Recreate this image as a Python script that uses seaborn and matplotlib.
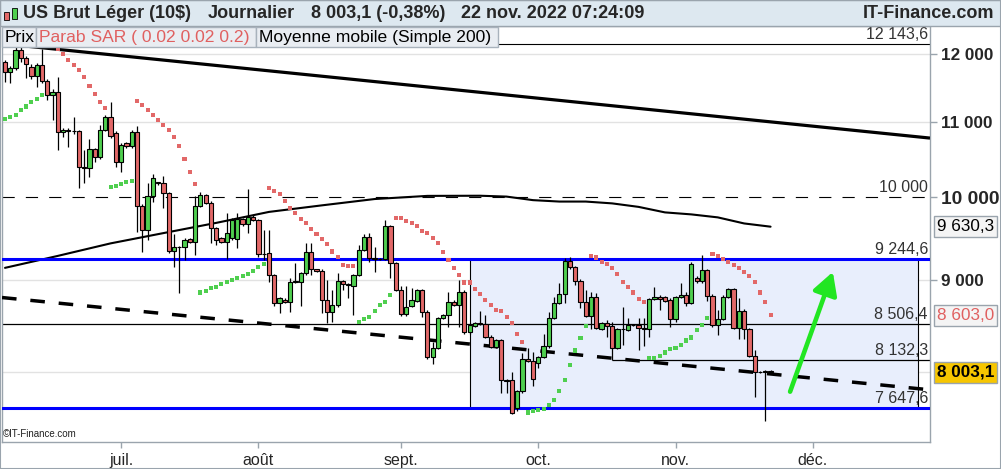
import numpy as np
import pandas as pd
import seaborn as sns
import matplotlib
matplotlib.use("Agg")
import matplotlib.pyplot as plt
import matplotlib.ticker as mticker
from matplotlib.patches import Rectangle

# ---- données : bougies journalières (dim-ven) du 6 juin au 22 nov. 2022
opens = [11870, 11720, 11780, 12060, 11930, 11805, 11667, 11831, 11598, 11389,
         11437, 10860, 10892, 10870, 10870, 10396, 10375, 10628, 10528, 10892,
         11070, 10846, 10462, 10710, 10673, 10860, 9888, 9591, 10015, 10190,
         10179, 10050, 9342, 9382, 9385, 9478, 9443, 9888, 10028, 9930,
         9612, 9490, 9450, 9490, 9482, 9726, 9664, 9755, 9714, 9303,
         9311, 9057, 8737, 8774, 8752, 8981, 8981, 9077, 9323, 9120,
         9107, 8774, 8644, 8718, 8992, 8950, 8933, 9057, 9350, 9502,
         9252, 9245, 9240, 9640, 9193, 8886, 8619, 8710, 8760, 8886,
         8644, 8157, 8252, 8572, 8608, 8755, 8718, 8863, 8421, 8489,
         8524, 8510, 8374, 8262, 8339, 7919, 7919, 7645, 7809, 8140,
         8120, 8099, 8158, 8269, 8572, 8737, 8842, 9224, 9147, 8992,
         8748, 8600, 8804, 8453, 8517, 8488, 8252, 8453, 8440, 8499,
         8499, 8463, 8460, 8782, 8811, 8804, 8774, 8562, 8804, 8830,
         8737, 9020, 8985, 9115, 8823, 8499, 8562, 8811, 8894, 8464,
         8655, 8453, 8174, 8010, 8000, 8020]
highs = [11910, 11816, 12105, 12136, 11968, 11846, 11860, 12070, 11623, 11476,
         11648, 10920, 10920, 11070, 10892, 10619, 10764, 10650, 10962, 11102,
         11292, 10870, 10710, 10730, 10892, 10952, 9910, 10186, 10296, 10200,
         10274, 10070, 9542, 9400, 9490, 9490, 10015, 10070, 10040, 9950,
         9630, 9500, 9801, 9740, 9797, 9740, 10105, 9770, 9730, 9591,
         9591, 9070, 8810, 8790, 9023, 9197, 9090, 9430, 9433, 9130,
         9120, 9000, 8886, 9077, 9000, 8960, 9070, 9410, 9542, 9550,
         9382, 9260, 9714, 9650, 9210, 8932, 8932, 8905, 8900, 8900,
         8660, 8321, 8590, 8620, 8867, 8770, 9000, 8880, 8510, 8535,
         8650, 8608, 8390, 8350, 8350, 7935, 8010, 7820, 8199, 8252,
         8216, 8170, 8403, 8644, 8811, 8962, 9250, 9270, 9160, 9005,
         8886, 8857, 8850, 8530, 8554, 8535, 8465, 8700, 8572, 8510,
         8572, 8572, 8800, 8924, 8825, 8815, 8790, 8815, 8962, 8867,
         9212, 9040, 9291, 9130, 8840, 8663, 8825, 8905, 8905, 8793,
         8670, 8465, 8234, 8020, 8030, 8030]
lows = [11580, 11560, 11757, 11877, 11633, 11618, 11509, 11564, 11316, 11032,
        10619, 10800, 10655, 10837, 10114, 10178, 10265, 10462, 10500, 10870,
        10780, 10396, 10330, 10650, 10650, 9570, 9323, 9470, 9943, 10160,
        9860, 9311, 9146, 8849, 9232, 9430, 9291, 9870, 9910, 9430,
        9410, 9430, 9240, 9470, 9370, 9640, 9554, 9700, 9270, 9232,
        8981, 8707, 8633, 8740, 8644, 8960, 8710, 9060, 9057, 9090,
        8627, 8517, 8535, 8700, 8886, 8793, 8608, 9040, 9340, 9212,
        9095, 9225, 9225, 9020, 8870, 8600, 8600, 8700, 8745, 8590,
        8140, 8088, 8240, 8560, 8481, 8705, 8481, 8400, 8400, 8480,
        8500, 8360, 8250, 8250, 7796, 7796, 7585, 7613, 7795, 8105,
        7865, 8050, 8145, 8255, 8560, 8725, 8737, 9130, 8943, 8682,
        8585, 8453, 8450, 8440, 8368, 8130, 8240, 8286, 8430, 8485,
        8234, 8269, 8374, 8770, 8663, 8750, 8474, 8535, 8795, 8707,
        8725, 8970, 8970, 8766, 8480, 8392, 8550, 8800, 8450, 8346,
        8346, 8160, 7753, 7990, 7517, 7985]
closes = [11720, 11782, 12059, 11933, 11842, 11667, 11831, 11598, 11389, 11437,
          10860, 10892, 10870, 10875, 10388, 10375, 10628, 10528, 10892, 11070,
          10810, 10462, 10686, 10673, 10860, 9888, 9591, 10015, 10252, 10179,
          10050, 9342, 9382, 9385, 9470, 9443, 9888, 10024, 9930, 9612,
          9470, 9450, 9558, 9714, 9726, 9664, 9751, 9714, 9299, 9299,
          9057, 8737, 8793, 8752, 8974, 8985, 9077, 9323, 9123, 9107,
          8774, 8644, 8718, 8992, 8952, 8937, 9057, 9350, 9502, 9252,
          9245, 9240, 9640, 9193, 8886, 8619, 8696, 8774, 8886, 8644,
          8157, 8252, 8572, 8608, 8755, 8718, 8863, 8421, 8499, 8524,
          8510, 8374, 8262, 8339, 7919, 7915, 7597, 7809, 8140, 8120,
          7933, 8158, 8269, 8572, 8737, 8842, 9224, 9147, 8992, 8748,
          8600, 8804, 8464, 8517, 8488, 8252, 8453, 8450, 8499, 8495,
          8463, 8460, 8782, 8811, 8782, 8766, 8562, 8804, 8830, 8737,
          9185, 8985, 9115, 8823, 8499, 8562, 8811, 8894, 8464, 8655,
          8453, 8174, 8010, 8000, 8020, 8003.1]

# Parabolic SAR (0.02 0.02 0.2)
sar = [11042, 11070, 11098, 11173, 11221, 11292, 11330, 11389,
       12199, 12128, 12066,
       11994, 11907, 11831, 11757, 11648, 11519, 11403, 11292, 11206,
       10135, 10147, 10169, 10191, 10212,
       11302, 11245, 11173, 11102, 11032, 10962, 10892, 10800, 10673, 10494, 10330, 10169,
       8857, 8879, 8906, 8924, 8951, 8974, 9000, 9020, 9046, 9069, 9104, 9147, 9185,
       10114, 10083, 10037, 9955, 9867, 9797, 9726, 9673, 9603, 9542, 9482, 9422,
       9331, 9264, 9174, 9166, 9166,
       8535, 8562, 8590, 8655, 8718, 8755, 8830,
       9735, 9735, 9702, 9673, 9640, 9579, 9558, 9498, 9438, 9330, 9232, 9142, 9057,
       8970, 8970, 8897, 8838, 8774, 8718, 8663, 8655, 8590, 8517, 8403, 8313,
       7603, 7619, 7629, 7641, 7678, 7727, 7816, 7926, 8078, 8227, 8360, 8488,
       9280, 9260, 9212, 9185, 9135, 9066, 8981, 8914, 8857, 8787, 8746,
       8147, 8147, 8174, 8206, 8241, 8258, 8286, 8332, 8364, 8446, 8499, 8577,
       9303, 9275, 9244, 9209, 9174, 9142, 9095, 9049, 8981, 8857, 8746, 8603]

# Moyenne mobile simple 200 (relevée toutes les 5 à 10 bougies)
ma_idx = [0, 10, 20, 30, 40, 50, 60, 70, 80, 90, 95, 100, 105, 110, 115,
          120, 125, 130, 135, 140, 145]
ma_vals = [9139, 9279, 9428, 9552, 9677, 9813, 9895, 9975, 10015, 10017, 10006,
           9961, 9943, 9943, 9920, 9876, 9807, 9782, 9745, 9670, 9630.3]

# niveaux horizontaux tracés sur le graphique
level_top = 12143.6
level_round = 10000
box_high = 9244.6
box_low = 7647.6
level_mid = 8506.4
level_support = 8132.3
support_start = 115
box_start, box_end = 88, 173

# droites de tendance (indice de bougie, prix)
trend_solid = ([0, 145], [12150, 11004])
trend_dashed = ([0, 145], [8797, 7985])

# flèche verte
arrow_from = (148.7, 7807)
arrow_to = (156.8, 9092)

month_labels = ['juil.', 'août', 'sept.', 'oct.', 'nov.', 'déc.']

RED = '#e26868'
GREEN = '#4fcf4f'

# ---- mise en forme
sns.set_style("white")
plt.rcParams['font.family'] = ['Liberation Sans', 'DejaVu Sans']

W, H = 1001, 469
fig = plt.figure(figsize=(W / 100, H / 100), dpi=100)
fig.patch.set_facecolor('white')


def fx(px):
    return px / W


def fy(py):
    return 1 - py / H


def fr(v, dec=1):
    s = f"{v:,.{dec}f}"
    return s.replace(',', ' ').replace('.', ',')


ax = fig.add_axes([fx(2), fy(442), fx(930) - fx(2), fy(26) - fy(442)])
ax.set_facecolor('white')
ax.set_yscale('log')
ax.set_ylim(7323, 12431)
ax.set_xlim(-0.57, 175.2)

# dates (le marché cote du dimanche au vendredi)
all_days = pd.date_range('2022-06-06', '2022-12-31')
all_days = all_days[all_days.dayofweek != 5]
n = len(closes)

df = pd.DataFrame({'x': np.arange(n), 'open': opens, 'high': highs,
                   'low': lows, 'close': closes})
df['up'] = df['close'] >= df['open']

# quadrillage
for g in [8000, 9000, 11000, 12000]:
    ax.axhline(g, color='#e2e2e2', lw=1, zorder=0.5)

# rectangle bleu clair
ax.add_patch(Rectangle((box_start, box_low), box_end - box_start, box_high - box_low,
                       facecolor='#e8eefc', edgecolor='none', zorder=0.8))
ax.vlines([box_start, box_end], box_low, box_high, color='black', lw=0.8, zorder=2)

# lignes horizontales
xmin, xmax = ax.get_xlim()
ax.axhline(level_top, color='black', lw=0.8, zorder=2)
ax.axhline(level_round, color='black', lw=0.8, ls=(0, (11, 10)), zorder=2)
ax.axhline(level_mid, color='black', lw=0.9, zorder=2)
ax.hlines(level_support, support_start, xmax, color='black', lw=0.9, zorder=2)
ax.axhline(box_high, color='#0000ff', lw=2.2, zorder=3.5)
ax.axhline(box_low, color='#0000ff', lw=2.2, zorder=3.5)


def extend(line, x0, x1):
    (k1, k2), (v1, v2) = line
    slope = (np.log(v2) - np.log(v1)) / (k2 - k1)
    return [x0, x1], [v1 * np.exp(slope * (x0 - k1)), v1 * np.exp(slope * (x1 - k1))]


xs, ys = extend(trend_solid, xmin, xmax)
ax.plot(xs, ys, color='black', lw=2.3, zorder=3, solid_capstyle='butt')
xs, ys = extend(trend_dashed, xmin, xmax)
ax.plot(xs, ys, color='black', lw=2.5, ls=(0, (4.2, 4)), zorder=3)

# moyenne mobile
sns.lineplot(x=ma_idx, y=ma_vals, ax=ax, color='black', linewidth=1.5, zorder=3)

# bougies
ax.vlines(df['x'], df['low'], df['high'], color='black', lw=0.9, zorder=4)
body_bottom = df[['open', 'close']].min(axis=1)
body_h = (df['close'] - df['open']).abs().clip(lower=3)
ax.bar(df['x'], body_h, bottom=body_bottom, width=0.8,
       color=np.where(df['up'], GREEN, RED), edgecolor='black', linewidth=0.8, zorder=5)

# SAR parabolique
sar_df = pd.DataFrame({'x': np.arange(n), 'sar': sar})
sar_df['trend'] = np.where(sar_df['sar'] < df['close'], 'up', 'down')
sns.scatterplot(data=sar_df, x='x', y='sar', hue='trend', palette={'up': GREEN, 'down': RED},
                marker='s', s=8.5, linewidth=0, legend=False, ax=ax, zorder=6)

# flèche
ax.annotate('', xy=arrow_to, xytext=arrow_from,
            arrowprops=dict(arrowstyle='-|>,head_length=0.9,head_width=0.5',
                            color='#22e622', lw=3.3, shrinkA=0, shrinkB=0,
                            mutation_scale=15), zorder=7)

# libellés des niveaux
for v in [level_top, level_round, box_high, level_mid, level_support, box_low]:
    txt = fr(v, 0) if v == level_round else fr(v)
    ax.annotate(txt, xy=(1, v), xycoords=('axes fraction', 'data'),
                xytext=(-2, 2), textcoords='offset pixels', ha='right', va='bottom',
                fontsize=11.5, color='#333333', zorder=8)

ax.set_xlabel('')
ax.set_ylabel('')

# axe des prix à droite
ax.yaxis.tick_right()
ax.yaxis.set_minor_locator(mticker.NullLocator())
ax.yaxis.set_minor_formatter(mticker.NullFormatter())
price_ticks = [9000, 10000, 11000, 12000]
ax.set_yticks(price_ticks)
ax.set_yticklabels([fr(t, 0) for t in price_ticks])
ax.tick_params(axis='y', which='major', length=5, width=1, color='#9aa4ad',
               labelsize=12.3, pad=3, right=True, left=False)
for lbl in ax.get_yticklabels():
    lbl.set_fontweight('bold')
    if lbl.get_text() == '10 000':
        lbl.set_fontsize(13.8)

# étiquettes des dernières valeurs
last_boxes = [
    (ma_vals[-1], 'black', '#f4f4f4', 'normal'),
    (sar[-1], '#e06060', '#f4f4f4', 'normal'),
    (closes[-1], 'black', '#f7c600', 'bold'),
]
for v, tc, bg, fw in last_boxes:
    ax.annotate(fr(v), xy=(1, v), xycoords=('axes fraction', 'data'),
                xytext=(7, 0), textcoords='offset pixels', ha='left', va='center',
                fontsize=12.3, color=tc, fontweight=fw, annotation_clip=False,
                bbox=dict(boxstyle='square,pad=0.18', fc=bg, ec='#9aa4ad', lw=1), zorder=9)

# axe du temps
month_pos = []
for m in [7, 8, 9, 10, 11, 12]:
    month_pos.append(int(np.argmax(all_days.month == m)))
ax.set_xticks(month_pos)
ax.set_xticklabels(month_labels)
ax.tick_params(axis='x', length=4, width=1, color='#9aa4ad', labelsize=11.5, pad=4,
               bottom=True)

for s in ax.spines.values():
    s.set_color('#9aa4ad')
    s.set_linewidth(1)

# bandeau du haut
fig.patches.append(Rectangle((0, fy(26)), 1, 26 / H, transform=fig.transFigure,
                             facecolor='#dde8f0', edgecolor='#9aa4ad', lw=1, zorder=1))
fig.patches.append(Rectangle((fx(4), fy(20)), 5 / W, 8 / H, transform=fig.transFigure,
                             facecolor=RED, edgecolor='black', lw=0.6, zorder=2))
fig.patches.append(Rectangle((fx(12), fy(19)), 5 / W, 11 / H, transform=fig.transFigure,
                             facecolor=GREEN, edgecolor='black', lw=0.6, zorder=2))
head = [(23, 'US Brut Léger (10$)'), (208, 'Journalier'),
        (311, '8 003,1 (-0,38%)'), (461, '22 nov. 2022 07:24:09')]
for x, t in head:
    fig.text(fx(x), fy(13), t, fontsize=13, fontweight='bold', va='center', ha='left', zorder=3)
fig.text(fx(994), fy(13), 'IT-Finance.com', fontsize=13, fontweight='bold',
         va='center', ha='right', zorder=3)

# légende des indicateurs
legend_items = [(2, 36, 'Prix', 'black'),
                (36, 256, 'Parab SAR ( 0.02 0.02 0.2)', '#e06060'),
                (256, 498, 'Moyenne mobile (Simple 200)', 'black')]
for x0, x1, t, c in legend_items:
    fig.patches.append(Rectangle((fx(x0), fy(47)), (x1 - x0) / W, 20 / H,
                                 transform=fig.transFigure, facecolor='#e9edf2',
                                 edgecolor='#a8b2bc', lw=1, zorder=4))
    fig.text(fx(x0 + 3), fy(37.5), t, fontsize=12.6, color=c, va='center', ha='left', zorder=5)

fig.text(fx(3), fy(434), '©IT-Finance.com', fontsize=7, color='#222222',
         va='center', ha='left', zorder=5)

# bordure
fig.patches.append(Rectangle((0, 0), 1, 1, transform=fig.transFigure, facecolor='none',
                             edgecolor='#9aa4ad', lw=1.5, zorder=10))

fig.savefig('out.png', dpi=100)
